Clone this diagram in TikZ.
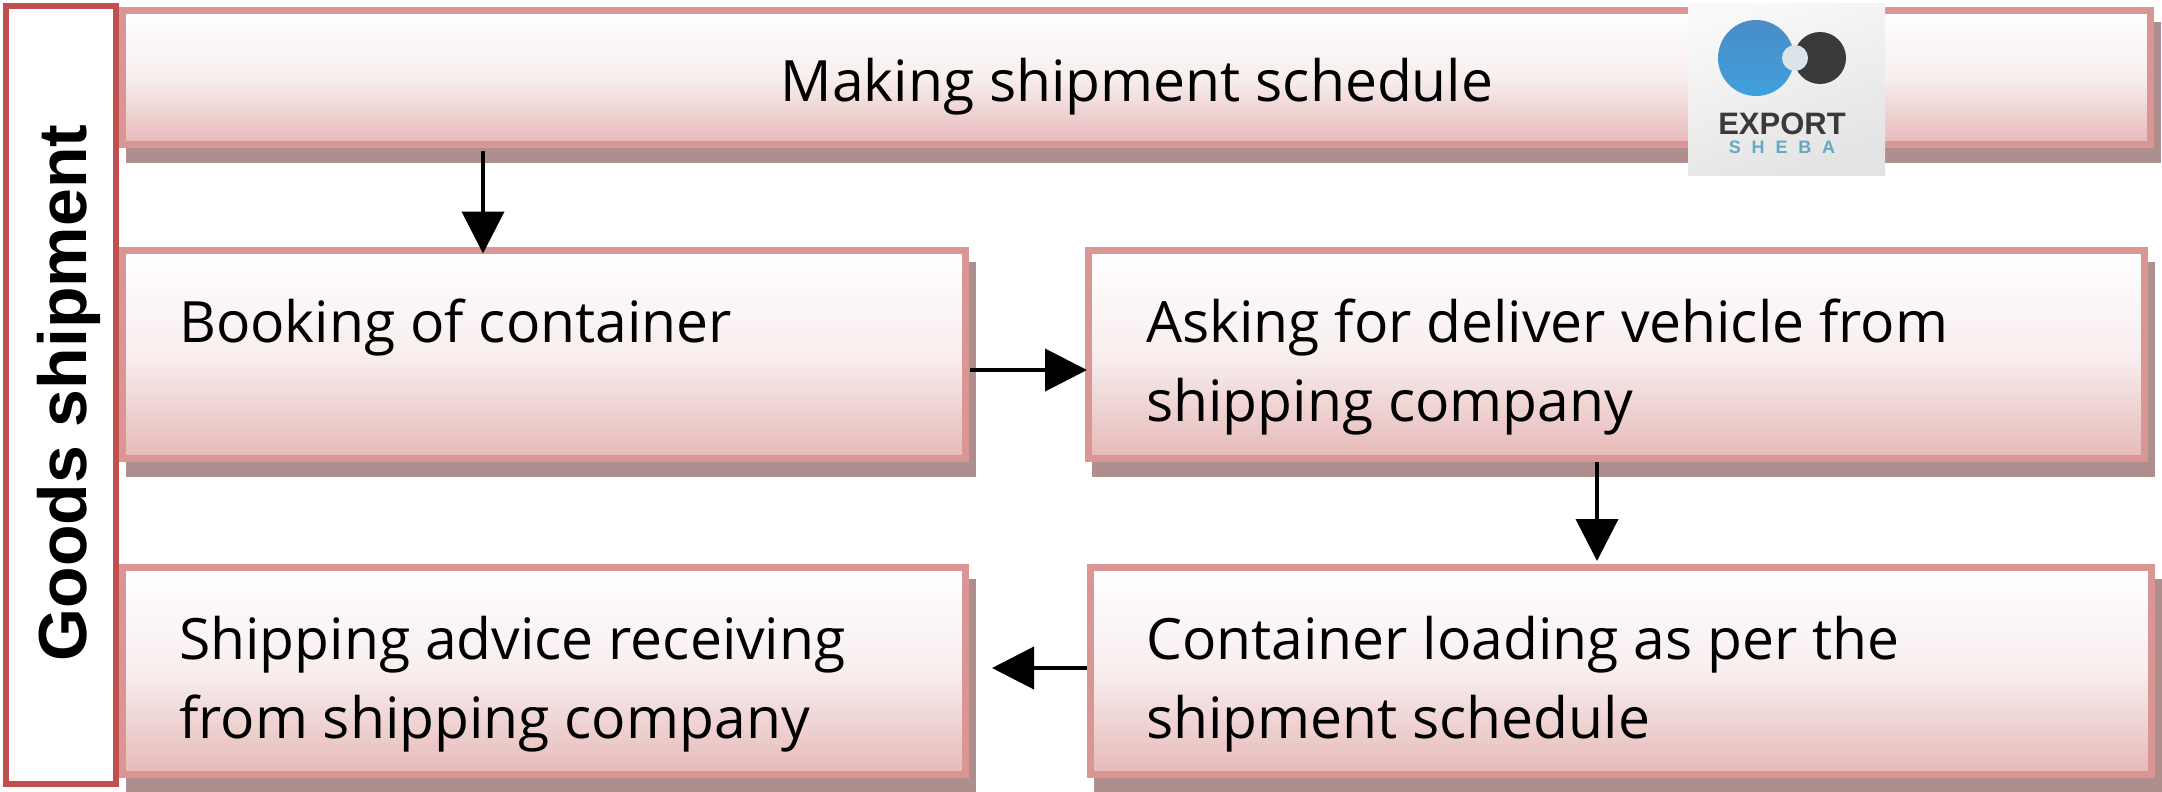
\documentclass[tikz,border=0pt]{standalone}
\usepackage{fontspec}
\setmainfont{Open Sans}
\newfontfamily\sidefont{Liberation Sans}
\newfontfamily\sheba[LetterSpace=60]{Liberation Sans}
\usetikzlibrary{arrows.meta,shadows}
\definecolor{edgepink}{HTML}{D99694}
\definecolor{edgered}{HTML}{C0504D}
\definecolor{shadowtone}{HTML}{AE8F8E}
\definecolor{midpink}{HTML}{F8EEEE}
\definecolor{lowpink}{HTML}{E6B9B8}
\definecolor{logobluea}{HTML}{4A8CC6}
\definecolor{logoblueb}{HTML}{3FA0DC}
\definecolor{logodark}{HTML}{3A3A3A}
\definecolor{logoteal}{HTML}{62A9C6}
\definecolor{logohole}{HTML}{DCE4EA}
\tikzset{
  stagebox/.style={draw=edgepink,line width=7pt,inner sep=0pt,outer sep=0pt,
    top color=white,bottom color=lowpink,middle color=midpink,
    general shadow={draw=shadowtone,fill=shadowtone,line width=7pt,shadow xshift=7pt,shadow yshift=-15pt}},
  stagetext/.style={anchor=north west,align=left,inner sep=0pt,font=\fontsize{57}{79}\selectfont,text=black},
  flow/.style={line width=4pt,black,-{Triangle[length=42pt,width=42pt]}},
}
% name, x1, y1, x2, y2 (outer edges, pixels from the top left)
\newcommand{\stage}[5]{%
  \pgfmathsetmacro{\sw}{#4-#2-7}\pgfmathsetmacro{\sh}{#5-#3-7}%
  \pgfmathsetmacro{\sx}{(#2+#4)/2}\pgfmathsetmacro{\sy}{(#3+#5)/2}%
  \node[stagebox,minimum width=\sw pt,minimum height=\sh pt] (#1) at (\sx,\sy) {};}
\begin{document}
\begin{tikzpicture}[x=1pt,y=-1pt]
\useasboundingbox (0,0) rectangle (2162,792);
\fill[white] (0,0) rectangle (2162,792);

\stage{sched}{119}{7}{2154}{148}
\stage{book}{119}{247}{969}{462}
\stage{ask}{1085}{247}{2148}{462}
\stage{load}{1087}{564}{2155}{778}
\stage{advice}{119}{564}{969}{778}

\node[draw=edgered,fill=white,line width=6pt,inner sep=0pt,outer sep=0pt,minimum width=110pt,minimum height=778pt] (side) at (61,395) {};
\node[rotate=90,inner sep=0pt,font=\sidefont\bfseries\fontsize{68}{68}\selectfont] (sidetext) at (69,393) {Goods shipment};

\node[inner sep=0pt,font=\fontsize{57}{79}\selectfont] (schedtext) at (1137,87) {Making shipment schedule};
\node[stagetext] (booktext) at (179,299) {Booking of container};
\node[stagetext] (asktext) at (1146,299) {Asking for deliver vehicle from\\shipping company};
\node[stagetext] (loadtext) at (1146,616) {Container loading as per the\\shipment schedule};
\node[stagetext] (advicetext) at (179,616) {Shipping advice receiving\\from shipping company};

% logo
\node[inner sep=0pt,outer sep=0pt,minimum width=197pt,minimum height=171pt,top color=gray!5,bottom color=gray!22,shading angle=20] (logo) at (1786.5,89.5) {};
\shade[top color=logobluea,bottom color=logoblueb] (1756,58) circle [radius=38];
\fill[logodark] (1820,58) circle [radius=26];
\fill[logohole] (1795,58) circle [radius=13];
\node[inner sep=0pt,font=\sidefont\bfseries\fontsize{31}{31}\selectfont,text=logodark] (logoa) at (1782,124) {EXPORT};
\node[inner sep=0pt,font=\sheba\bfseries\fontsize{18}{18}\selectfont,text=logoteal] (logob) at (1782,147) {SHEBA};

% connectors
\coordinate (xa) at (483,0);
\coordinate (ya) at (0,370);
\coordinate (xb) at (1597,0);
\coordinate (yb) at (0,668);
\draw[flow,shorten <=6.5pt,shorten >=-3pt] (sched.south -| xa) -- (book.north -| xa);
\draw[flow,shorten <=4.5pt,shorten >=1.5pt] (book.east |- ya) -- (ask.west |- ya);
\draw[flow,shorten <=3.5pt,shorten >=6.5pt] (ask.south -| xb) -- (load.north -| xb);
\draw[flow,shorten <=3.5pt,shorten >=26.5pt] (load.west |- yb) -- (advice.east |- yb);
\end{tikzpicture}
\end{document}
